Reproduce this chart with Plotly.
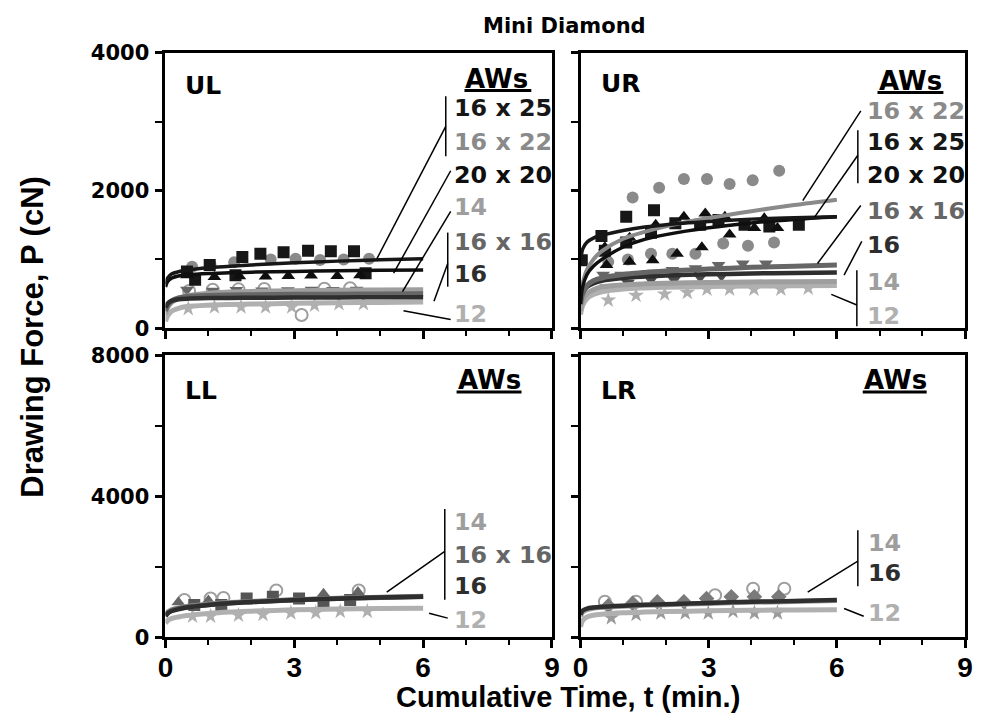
import plotly.graph_objects as go

# page geometry: the browser keeps its default 8px body margin
PAGE_W, PAGE_H = 983, 728
OX, OY = 8, 8
W, H = PAGE_W - 2 * OX, PAGE_H - 2 * OY

# ---------------- data ----------------
# sample times of the fitted curves (min)
T_FIT = [0, 0.05, 0.15, 0.3, 0.5, 1, 1.5, 2, 3, 4, 5, 6]

# ---- UL panel ----
ul_fit_16x25 = [650, 730, 790, 820, 845, 880, 900, 920, 950, 975, 995, 1011]
ul_fit_20x20 = [600, 680, 730, 760, 775, 795, 805, 815, 825, 835, 842, 847]
ul_fit_14 = [200, 300, 380, 430, 470, 510, 525, 535, 545, 552, 557, 560]
ul_fit_16x16 = [250, 330, 400, 440, 460, 475, 482, 487, 492, 495, 498, 500]
ul_fit_16 = [300, 360, 400, 420, 430, 438, 441, 443, 446, 448, 449, 450]
ul_fit_12 = [100, 180, 250, 290, 315, 335, 345, 352, 362, 370, 375, 380]

ul_t_16x25 = [0.50, 0.69, 1.03, 1.63, 1.79, 2.21, 2.75, 3.32, 3.85, 4.39, 4.66]
ul_p_16x25 = [824, 706, 917, 770, 1034, 1081, 1105, 1127, 1119, 1119, 800]
ul_t_16x22 = [0.62, 1.05, 1.60, 2.45, 3.03, 3.60, 4.15, 4.74]
ul_p_16x22 = [894, 920, 960, 997, 1011, 990, 1000, 1011]
ul_t_20x20 = [0.50, 1.14, 1.72, 2.33, 2.86, 3.39, 4.00, 4.53]
ul_p_20x20 = [770, 745, 755, 750, 760, 765, 760, 770]
ul_t_16x16 = [0.50, 1.10, 1.65, 2.25, 2.85, 3.40, 3.90, 4.45]
ul_p_16x16 = [560, 545, 555, 548, 552, 560, 555, 560]
ul_t_14 = [0.55, 1.10, 1.70, 2.30, 3.17, 3.70, 4.30]
ul_p_14 = [540, 560, 565, 570, 192, 575, 580]
ul_t_12 = [0.53, 1.14, 1.76, 2.33, 2.94, 3.47, 4.04, 4.61]
ul_p_12 = [285, 309, 309, 309, 309, 333, 355, 355]

# ---- UR panel ----
ur_fit_16x22 = [450, 650, 850, 1000, 1120, 1300, 1400, 1480, 1600, 1700, 1790, 1867]
ur_fit_16x25 = [950, 1150, 1250, 1310, 1350, 1420, 1470, 1505, 1550, 1585, 1605, 1619]
ur_fit_20x20 = [350, 600, 780, 900, 1000, 1180, 1290, 1360, 1460, 1530, 1580, 1619]
ur_fit_16x16 = [350, 500, 620, 690, 730, 780, 810, 830, 860, 885, 902, 917]
ur_fit_16 = [400, 520, 600, 650, 690, 730, 750, 765, 783, 795, 803, 810]
ur_fit_14 = [250, 400, 500, 560, 600, 630, 645, 655, 665, 672, 677, 680]
ur_fit_12 = [200, 330, 430, 490, 530, 570, 585, 595, 605, 612, 617, 620]

ur_t_16x22 = [1.22, 1.84, 2.42, 2.96, 3.49, 4.03, 4.65, 0.65, 1.11, 1.65, 2.15, 2.69, 3.34, 3.92, 4.53]
ur_p_16x22 = [1900, 2040, 2167, 2167, 2095, 2148, 2288, 964, 1000, 1081, 1081, 1081, 1231, 1198, 1245]
ur_t_16x25 = [0.03, 0.49, 0.57, 1.07, 1.07, 1.65, 1.72, 2.22, 2.80, 3.23, 3.84, 4.42, 5.11]
ur_p_16x25 = [987, 1338, 1127, 1619, 1245, 1386, 1713, 1526, 1502, 1572, 1502, 1479, 1502]
ur_t_20x20 = [0.57, 0.61, 1.15, 1.15, 1.69, 1.76, 2.26, 2.42, 2.84, 2.92, 3.38, 3.49, 4.07, 4.30, 4.61]
ur_p_20x20 = [1175, 917, 1315, 964, 987, 1502, 1081, 1619, 1175, 1666, 1619, 1362, 1456, 1596, 1456]
ur_t_16x16 = [0.53, 0.95, 1.57, 2.15, 2.69, 3.23, 3.80, 4.34]
ur_p_16x16 = [777, 777, 800, 847, 870, 917, 940, 940]
ur_t_16 = [0.60, 1.11, 1.65, 2.19, 2.80, 3.30]
ur_p_16 = [590, 660, 706, 706, 740, 760]
ur_t_12 = [0.65, 1.30, 1.97, 2.50, 2.96, 3.49, 4.06, 4.69, 5.33]
ur_p_12 = [407, 477, 496, 520, 566, 566, 566, 566, 580]

# ---- LL panel ----
ll_fit_14 = [640, 720, 790, 840, 880, 945, 990, 1020, 1070, 1110, 1140, 1165]
ll_fit_16x16 = [620, 700, 770, 820, 865, 930, 978, 1010, 1062, 1102, 1133, 1158]
ll_fit_16 = [600, 680, 750, 800, 850, 920, 970, 1005, 1060, 1100, 1130, 1151]
ll_fit_12 = [400, 480, 540, 580, 620, 680, 720, 745, 785, 805, 820, 830]

ll_t_14 = [0.44, 1.05, 1.35, 2.58, 4.50]
ll_p_14 = [1060, 1104, 1120, 1334, 1334]
ll_t_16x16 = [0.30, 1.00, 3.68, 4.48]
ll_p_16x16 = [1000, 1050, 1241, 1288]
ll_t_16 = [0.67, 1.30, 1.89, 2.50, 3.11, 3.68, 4.30]
ll_p_16 = [923, 923, 1104, 1151, 1104, 1014, 1060]
ll_t_12 = [0.63, 1.05, 1.70, 2.27, 2.92, 3.50, 4.07, 4.70]
ll_p_12 = [603, 603, 630, 649, 693, 700, 740, 740]

# ---- LR panel ----
lr_fit_14 = [600, 720, 790, 830, 850, 885, 910, 930, 965, 995, 1020, 1045]
lr_fit_16 = [650, 760, 820, 850, 870, 900, 925, 945, 980, 1010, 1035, 1060]
lr_fit_12 = [300, 480, 580, 630, 660, 700, 720, 735, 755, 770, 780, 786]

lr_t_16 = [0.65, 1.22, 1.80, 2.42, 2.95, 3.53, 4.07, 4.64]
lr_p_16 = [900, 967, 1014, 1014, 1104, 1151, 1151, 1151]
lr_t_14 = [0.57, 1.30, 3.15, 4.04, 4.77]
lr_p_14 = [1014, 1014, 1197, 1380, 1380]
lr_t_12 = [0.72, 1.30, 1.88, 2.45, 2.99, 3.57, 4.07, 4.61]
lr_p_12 = [556, 649, 693, 693, 693, 740, 693, 693]

x_ticks = [0, 3, 6, 9]
x_minor = [1, 2, 4, 5, 7, 8]
y_ticks_upper = [0, 2000, 4000]
y_minor_upper = [1000, 3000]
y_ticks_lower = [0, 4000, 8000]
y_minor_lower = [2000, 6000]

# ---------------- styles ----------------
C = {
    "16 x 25": "#171717",
    "20 x 20": "#0f0f0f",
    "16 x 22": "#8a8a8a",
    "16 x 16": "#666666",
    "16": "#2e2e2e",
    "14": "#9e9e9e",
    "12": "#b0b0b0",
}
SYM = {
    "16 x 25": "square",
    "20 x 20": "triangle-up",
    "16 x 22": "circle",
    "16 x 16": "triangle-down",
    "16": "diamond",
    "14": "circle-open",
    "12": "star",
}
LW = {"16 x 25": 3.5, "20 x 20": 3.5, "16 x 22": 4, "16 x 16": 5, "16": 4.5, "14": 5, "12": 5}

fig = go.Figure()


def add_markers(ax, name, t, p, mcol=None, sym=None):
    col = mcol or C[name]
    s = sym or SYM[name]
    fig.add_trace(go.Scatter(
        x=t, y=p, mode="markers", xaxis="x" + ax, yaxis="y" + ax,
        marker=dict(symbol=s, size=12, color=col,
                    line=dict(width=2 if s.endswith("open") else 0, color=col)),
        showlegend=False, hoverinfo="skip"))


def add_fit(ax, name, vals):
    fig.add_trace(go.Scatter(
        x=T_FIT, y=vals, mode="lines", xaxis="x" + ax, yaxis="y" + ax,
        line=dict(color=C[name], width=LW[name], shape="spline", smoothing=0.8),
        showlegend=False, hoverinfo="skip"))


# UL
add_markers("", "12", ul_t_12, ul_p_12)
add_markers("", "14", ul_t_14, ul_p_14)
add_markers("", "16 x 16", ul_t_16x16, ul_p_16x16)
add_markers("", "16 x 22", ul_t_16x22, ul_p_16x22)
add_markers("", "16 x 25", ul_t_16x25, ul_p_16x25)
add_markers("", "20 x 20", ul_t_20x20, ul_p_20x20)
for nm, v in [("12", ul_fit_12), ("14", ul_fit_14), ("16 x 16", ul_fit_16x16), ("16", ul_fit_16),
              ("20 x 20", ul_fit_20x20), ("16 x 25", ul_fit_16x25)]:
    add_fit("", nm, v)

# UR
add_markers("2", "12", ur_t_12, ur_p_12)
add_markers("2", "16", ur_t_16, ur_p_16, mcol="#4a4a4a", sym="triangle-down")
add_markers("2", "16 x 16", ur_t_16x16, ur_p_16x16)
add_markers("2", "16 x 22", ur_t_16x22, ur_p_16x22)
add_markers("2", "16 x 25", ur_t_16x25, ur_p_16x25)
add_markers("2", "20 x 20", ur_t_20x20, ur_p_20x20)
for nm, v in [("12", ur_fit_12), ("14", ur_fit_14), ("16", ur_fit_16), ("16 x 16", ur_fit_16x16),
              ("16 x 22", ur_fit_16x22), ("20 x 20", ur_fit_20x20), ("16 x 25", ur_fit_16x25)]:
    add_fit("2", nm, v)

# LL
add_markers("3", "14", ll_t_14, ll_p_14)
add_markers("3", "12", ll_t_12, ll_p_12)
add_markers("3", "16 x 16", ll_t_16x16, ll_p_16x16, sym="triangle-up")
add_markers("3", "16", ll_t_16, ll_p_16, mcol="#555555", sym="square")
for nm, v in [("12", ll_fit_12), ("14", ll_fit_14), ("16 x 16", ll_fit_16x16), ("16", ll_fit_16)]:
    add_fit("3", nm, v)

# LR
add_markers("4", "14", lr_t_14, lr_p_14)
add_markers("4", "12", lr_t_12, lr_p_12, mcol="#9a9a9a")
add_markers("4", "16", lr_t_16, lr_p_16, mcol="#7a7a7a")
for nm, v in [("12", lr_fit_12), ("14", lr_fit_14), ("16", lr_fit_16)]:
    add_fit("4", nm, v)


# ---------------- helpers: page pixels -> paper ----------------
def px(x):
    return (x - OX) / W


def py(y):
    return 1 - (y - OY) / H


XL = [px(160), px(553)]
XR = [px(582), px(973)]
YU = [py(327), py(42)]
YLo = [py(647), py(355)]

XFONT = dict(family="Liberation Sans, Arial, sans-serif", size=28, color="black", weight="bold")
YFONT = dict(family="DejaVu Sans, sans-serif", size=21, color="black", weight="bold")


def xax(dom, anchor, labels):
    return dict(domain=dom, anchor=anchor, range=[0, 9], tickvals=x_ticks,
                showticklabels=labels, tickfont=XFONT, ticks="outside", ticklen=8, tickwidth=3,
                tickcolor="black", showline=True, linewidth=3, linecolor="black", mirror=True,
                showgrid=False, zeroline=False, fixedrange=True, ticklabelstandoff=-5,
                minor=dict(tickvals=x_minor, ticks="outside", ticklen=5, tickwidth=2,
                           tickcolor="black", showgrid=False))


def yax(dom, anchor, rng, tv, minor, labels):
    return dict(domain=dom, anchor=anchor, range=rng, tickvals=tv, showticklabels=labels,
                tickfont=YFONT, ticks="outside", ticklen=7, tickwidth=3, tickcolor="black",
                showline=True, linewidth=3, linecolor="black", mirror=True, showgrid=False,
                zeroline=False, fixedrange=True, ticklabelstandoff=2,
                minor=dict(tickvals=minor, ticks="outside", ticklen=7, tickwidth=2,
                           tickcolor="black", showgrid=False))


fig.update_layout(
    width=W, height=H, autosize=False, margin=dict(l=0, r=0, t=0, b=0),
    paper_bgcolor="white", plot_bgcolor="white", showlegend=False,
    xaxis=xax(XL, "y", False), yaxis=yax(YU, "x", [0, 4000], y_ticks_upper, y_minor_upper, True),
    xaxis2=xax(XR, "y2", False), yaxis2=yax(YU, "x2", [0, 4000], y_ticks_upper, y_minor_upper, False),
    xaxis3=xax(XL, "y3", True), yaxis3=yax(YLo, "x3", [0, 8000], y_ticks_lower, y_minor_lower, True),
    xaxis4=xax(XR, "y4", True), yaxis4=yax(YLo, "x4", [0, 8000], y_ticks_lower, y_minor_lower, False),
)

ann = []
shapes = []
SANS = "DejaVu Sans, sans-serif"
ARIAL = "Liberation Sans, Arial, sans-serif"


def text(x, y, s, size, color="black", family=SANS, xanchor="left", angle=0):
    ann.append(dict(x=px(x), y=py(y), xref="paper", yref="paper", text=s, showarrow=False,
                    xanchor=xanchor, yanchor="middle", textangle=angle,
                    font=dict(family=family, size=size, color=color, weight="bold")))


def line(x0, y0, x1, y1, w=1.5, color="black"):
    shapes.append(dict(type="line", xref="paper", yref="paper", x0=px(x0), y0=py(y0),
                       x1=px(x1), y1=py(y1), line=dict(color=color, width=w)))


# titles
text(566, 14, "Mini Diamond", 21, xanchor="center")
text(569, 709, "Cumulative Time, t (min.)", 29, family=ARIAL, xanchor="center")
text(25, 336, "Drawing Force, P (cN)", 31, family=ARIAL, xanchor="center", angle=-90)

# panel labels
for (x, y, s) in [(178, 76, "UL"), (601, 74, "UR"), (178, 391, "LL"), (601, 391, "LR")]:
    text(x, y, s, 25)

# AWs headers
LEG = 23.8
for (x, y, ux) in [(463, 69, 532), (883, 71, 951), (455, 381, 522), (868, 381, 934)]:
    text(x, y, "AWs", 26)
    line(x + 1, y + 12, ux, y + 12, w=3)

# UL legend
for (y, s) in [(99, "16 x 25"), (134, "16 x 22"), (168, "20 x 20"), (202, "14"),
               (238, "16 x 16"), (271, "16"), (312, "12")]:
    text(451, y, s, LEG, color=C[s])
line(445, 87, 445, 149)
line(445, 118, 375, 255)
line(450, 164, 392, 270)
line(450, 206, 401, 289)
line(447, 228, 447, 284)
line(447, 260, 433, 299)
line(402, 309, 450, 318)

# UR legend
for (y, s) in [(102, "16 x 22"), (134, "16 x 25"), (168, "20 x 20"), (206, "16 x 16"),
               (241, "16"), (279, "14"), (314, "12")]:
    text(871, y, s, LEG, color=C[s])
line(867, 102, 808, 195)
line(864, 122, 864, 177)
line(864, 148, 820, 212)
line(867, 200, 823, 260)
line(868, 237, 850, 272)
line(863, 267, 863, 325)
line(837, 292, 863, 303)

# LL legend
for (y, s) in [(527, "14"), (562, "16 x 16"), (594, "16"), (629, "12")]:
    text(451, y, s, LEG, color=C[s])
line(444, 514, 444, 608)
line(444, 558, 385, 600)
line(428, 622, 447, 627)

# LR legend
for (y, s) in [(549, "14"), (580, "16"), (622, "12")]:
    text(872, y, s, LEG, color=C[s])
line(864, 536, 864, 594)
line(864, 568, 813, 600)
line(850, 617, 870, 625)

fig.update_layout(annotations=ann, shapes=shapes)

fig.write_html("out.html", config={"displayModeBar": False})
